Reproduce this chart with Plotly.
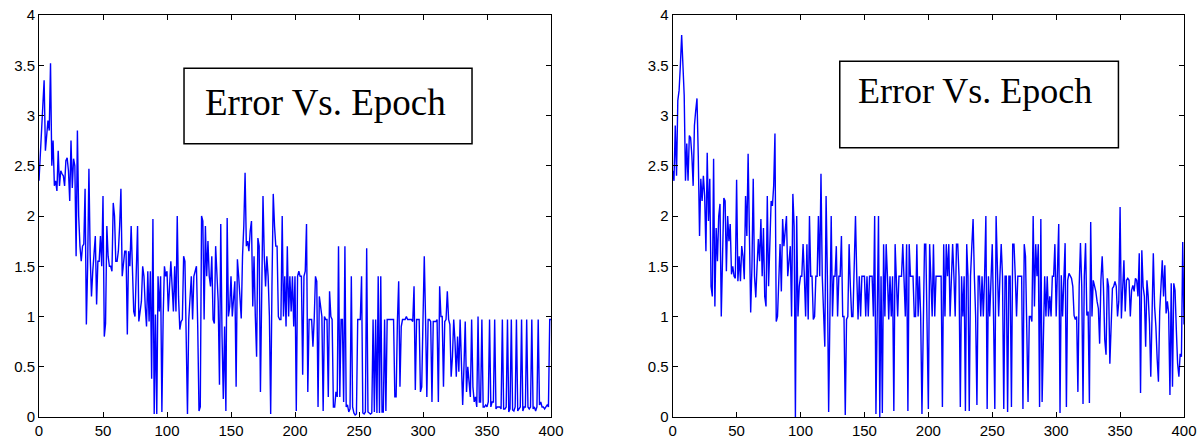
import plotly.graph_objects as go

epochs = list(range(0, 401))

error_left = [
    2.35, 2.6, 2.95, 3.1, 3.35, 2.65, 2.8, 2.95, 2.85, 3.52,
    2.5, 2.75, 2.3, 2.35, 2.25, 2.65, 2.3, 2.45, 2.42, 2.4,
    2.3, 2.55, 2.58, 2.45, 2.15, 2.75, 2.28, 2.57, 2.5, 1.6,
    2.85, 2.0, 1.7, 1.55, 1.7, 1.72, 2.27, 0.92, 1.5, 2.47,
    1.6, 1.2, 1.45, 1.6, 1.8, 1.12, 1.55, 1.55, 1.8, 1.5,
    2.2, 0.8, 0.93, 1.9, 1.6, 1.5, 1.5, 1.45, 2.13, 2.0,
    1.55, 1.55, 1.65, 1.9, 2.27, 1.4, 1.5, 1.65, 1.65, 0.82,
    1.65, 1.5, 1.9, 1.5, 1.05, 1.0, 1.6, 1.9, 0.95, 1.05,
    1.15, 1.5, 1.4, 1.1, 0.9, 1.45, 0.95, 1.45, 0.38, 1.97,
    0.03, 1.02, 0.03, 1.4, 1.05, 1.4, 0.05, 1.0, 1.5, 1.4,
    1.45, 1.05, 1.35, 1.55, 1.3, 1.05, 1.5, 1.05, 2.0, 1.2,
    0.87, 0.95, 0.97, 1.6, 1.55, 0.6, 0.03, 0.97, 1.2, 1.4,
    0.97, 1.4, 1.45, 1.5, 0.9, 0.06, 0.1, 2.0, 1.95, 0.97,
    1.9, 1.4, 1.75, 1.4, 1.3, 1.6, 0.97, 0.93, 1.7, 1.4,
    1.15, 0.32, 1.92, 0.8, 0.18, 0.9, 0.06, 1.98, 1.0, 1.1,
    1.4, 1.0, 1.2, 1.35, 0.3, 1.57, 1.4, 1.2, 0.98, 1.6,
    1.9, 2.43, 1.7, 1.75, 1.65, 1.85, 1.95, 1.1, 1.6, 1.0,
    0.6, 1.78, 1.7, 0.25, 1.3, 2.2, 1.6, 1.3, 1.6, 1.4,
    1.0, 0.03, 1.3, 2.22, 1.9, 1.7, 1.7, 1.0, 0.97, 0.97,
    2.0, 1.0, 1.4, 0.9, 1.7, 1.0, 1.4, 1.05, 1.4, 0.9,
    1.4, 0.06, 1.4, 1.45, 1.4, 1.4, 0.42, 1.4, 1.45, 1.92,
    0.25, 0.97, 0.97, 0.97, 0.7, 0.97, 1.4, 1.35, 0.1, 1.2,
    1.1, 1.0, 0.06, 1.0, 0.97, 0.97, 0.2, 1.25, 1.0, 0.97,
    0.1, 0.1, 0.25, 0.2, 1.7, 0.2, 0.97, 0.97, 0.15, 1.7,
    0.1, 0.12, 0.05, 0.08, 1.4, 0.1, 0.04, 0.02, 0.03, 0.97,
    0.97, 0.97, 1.4, 0.04, 0.03, 0.05, 1.68, 0.05, 0.04, 0.03,
    0.04, 0.97, 0.05, 0.97, 0.04, 1.4, 0.04, 1.4, 0.05, 0.05,
    0.97, 0.06, 0.97, 0.97, 0.97, 0.97, 0.97, 0.97, 0.2, 0.2,
    0.95, 1.35, 0.3, 0.9, 0.97, 0.97, 0.97, 1.0, 0.97, 0.97,
    0.97, 0.97, 0.95, 1.3, 0.27, 0.97, 0.97, 0.97, 0.25, 0.3,
    0.97, 1.6, 0.97, 0.2, 0.97, 0.97, 0.95, 0.15, 0.95, 0.95,
    0.95, 0.97, 0.15, 1.3, 1.0, 1.0, 0.3, 0.95, 0.97, 1.25,
    0.97, 0.92, 0.4, 0.6, 0.97, 0.75, 0.4, 0.8, 0.45, 0.97,
    0.5, 0.12, 0.5, 0.95, 0.25, 0.5, 0.35, 0.2, 0.97, 0.3,
    0.15, 0.2, 0.1, 1.0, 0.15, 0.15, 0.97, 0.1, 0.1, 0.12,
    0.1, 0.15, 0.97, 0.1, 0.15, 0.15, 0.97, 0.08, 0.1, 0.1,
    0.1, 0.08, 0.97, 0.08, 0.08, 0.1, 0.97, 0.05, 0.08, 0.97,
    0.07, 0.06, 0.1, 0.97, 0.06, 0.08, 0.1, 0.97, 0.06, 0.1,
    0.1, 0.97, 0.1, 0.08, 0.1, 0.97, 0.08, 0.1, 0.06, 0.1,
    0.97, 0.12, 0.15, 0.1, 0.1, 0.08, 0.1, 0.12, 0.1, 0.97,
    0.97,
]

error_right = [
    2.45, 2.35, 2.9, 2.4, 3.15, 3.25, 3.5, 3.8, 3.5, 3.2,
    2.35, 2.72, 2.35, 2.8, 2.78, 2.6, 2.3, 2.9, 3.05, 3.17,
    2.6, 1.8, 2.37, 2.15, 2.4, 2.2, 1.65, 2.63, 1.95, 2.37,
    1.3, 1.2, 2.57, 1.1, 1.88, 1.55, 2.0, 2.12, 1.0, 1.7,
    2.18, 2.15, 1.45, 2.0, 1.75, 1.92, 1.42, 1.5, 1.4, 1.38,
    2.36, 1.35, 1.6, 1.35, 1.7, 1.6, 1.37, 2.2, 1.8, 2.62,
    1.7, 1.04, 1.5, 2.37, 1.4, 1.19, 1.5, 1.77, 1.55, 1.97,
    1.4, 1.88, 1.2, 1.1, 2.2, 1.3, 1.72, 2.15, 2.1, 2.3,
    2.82, 0.95, 1.0, 1.3, 1.72, 1.25, 1.97, 1.7, 1.85, 2.0,
    1.4, 1.6, 1.7, 1.0, 2.22, 1.9, 0.0, 2.0, 1.0, 1.3,
    1.4, 1.4, 1.72, 1.4, 1.0, 1.72, 0.97, 2.0, 1.4, 1.4,
    0.97, 1.0, 1.4, 1.4, 2.0, 1.4, 2.42, 1.4, 1.0, 0.7,
    2.2, 1.4, 0.05, 1.4, 2.0, 1.0, 1.4, 1.4, 1.7, 1.0,
    1.4, 1.4, 1.8, 1.0, 1.0, 0.02, 0.97, 1.0, 1.72, 1.3,
    1.0, 1.0, 1.4, 2.0, 1.4, 0.97, 1.4, 1.0, 1.4, 1.4,
    1.4, 1.0, 1.4, 1.0, 1.4, 1.4, 1.4, 1.0, 2.0, 0.03,
    1.4, 2.0, 0.0, 1.4, 0.04, 1.72, 1.0, 1.72, 1.4, 0.97,
    1.4, 1.0, 1.4, 0.06, 1.72, 1.4, 1.0, 1.4, 1.4, 1.4,
    1.72, 1.4, 1.0, 1.72, 0.06, 1.72, 1.4, 1.4, 1.4, 1.0,
    1.0, 1.72, 1.0, 1.4, 1.0, 0.03, 1.0, 1.72, 1.72, 1.0,
    0.08, 1.72, 1.4, 1.0, 1.72, 1.0, 1.4, 1.4, 1.4, 1.4,
    1.4, 0.1, 1.72, 1.0, 1.72, 1.4, 1.72, 1.0, 1.4, 1.72,
    1.4, 1.0, 1.72, 1.72, 1.4, 0.1, 1.4, 1.0, 1.4, 0.06,
    1.72, 1.4, 0.06, 1.4, 1.7, 1.97, 1.4, 1.0, 0.12, 1.4,
    1.4, 1.0, 1.4, 1.0, 1.4, 2.0, 0.08, 1.4, 1.0, 1.4,
    1.72, 1.0, 0.08, 2.0, 1.4, 1.0, 1.4, 1.72, 1.4, 0.08,
    1.4, 1.4, 0.05, 1.4, 1.4, 0.1, 1.72, 1.72, 1.4, 1.0,
    1.4, 1.4, 1.4, 1.4, 0.08, 1.72, 1.6, 1.0, 0.15, 1.0,
    1.0, 0.95, 2.0, 1.1, 1.72, 1.4, 1.72, 0.1, 1.97, 0.15,
    1.0, 1.4, 1.0, 1.4, 1.0, 1.2, 1.0, 1.4, 1.4, 1.72,
    1.0, 1.4, 1.92, 0.04, 1.41, 1.0, 1.41, 1.73, 0.1, 1.36,
    1.43, 1.41, 1.38, 1.3, 1.01, 0.97, 1.0, 0.25, 1.3, 1.73,
    1.3, 0.13, 1.4, 1.73, 1.01, 1.05, 0.14, 1.94, 1.0, 1.36,
    1.3, 1.25, 1.15, 1.08, 0.73, 1.36, 1.6, 1.28, 0.77, 0.62,
    1.38, 1.3, 0.53, 0.9, 1.28, 1.3, 1.35, 1.3, 1.0, 1.15,
    2.09, 0.98, 1.36, 1.56, 1.05, 1.36, 1.38, 1.36, 1.0, 1.26,
    1.31, 1.25, 1.38, 1.36, 1.2, 1.63, 0.24, 1.66, 1.3, 1.2,
    0.7, 1.36, 1.2, 0.93, 0.4, 1.2, 1.63, 1.1, 0.9, 0.58,
    0.35, 1.05, 1.3, 1.56, 1.2, 1.51, 1.03, 1.15, 1.03, 0.22,
    1.33, 0.3, 1.33, 1.26, 0.87, 0.53, 0.4, 0.63, 0.6, 1.74,
    0.92,
]

x_ticks = [0, 50, 100, 150, 200, 250, 300, 350, 400]
y_ticks = [0, 0.5, 1, 1.5, 2, 2.5, 3, 3.5, 4]
y_ticklabels = ["0", "0.5", "1", "1.5", "2", "2.5", "3", "3.5", "4"]
title_text = "Error Vs. Epoch"

# Figure fills the whole 1203x441 window (page body margin removed in post_script)
W, H = 1203, 441


def xdom(px0, px1):
    return [px0 / W, px1 / W]


def ydom(py_top, py_bot):
    return [(H - py_bot) / H, (H - py_top) / H]


fig = go.Figure()
fig.add_trace(go.Scatter(x=epochs, y=error_left, mode="lines",
                         line=dict(color="#0000ff", width=1.4),
                         xaxis="x", yaxis="y", showlegend=False, hoverinfo="skip"))
fig.add_trace(go.Scatter(x=epochs, y=error_right, mode="lines",
                         line=dict(color="#0000ff", width=1.4),
                         xaxis="x2", yaxis="y2", showlegend=False, hoverinfo="skip"))

tick_font = dict(family="Liberation Sans, Arial, sans-serif", size=15, color="black")


def xax(domain, anchor):
    return dict(domain=domain, anchor=anchor, range=[0, 400], tickvals=x_ticks,
                ticks="inside", ticklen=5, tickcolor="black", tickwidth=1,
                showline=True, linecolor="black", linewidth=1, mirror="ticks",
                showgrid=False, zeroline=False, tickfont=tick_font,
                automargin=False, ticklabeloverflow="allow")


def yax(domain, anchor):
    return dict(domain=domain, anchor=anchor, range=[0, 4], tickvals=y_ticks,
                ticktext=y_ticklabels,
                ticks="inside", ticklen=5, tickcolor="black", tickwidth=1,
                showline=True, linecolor="black", linewidth=1, mirror="ticks",
                showgrid=False, zeroline=False, tickfont=tick_font,
                automargin=False, ticklabeloverflow="allow")


yd = ydom(15, 417)
fig.update_layout(
    width=W, height=H,
    margin=dict(l=0, r=0, t=0, b=0, autoexpand=False),
    paper_bgcolor="white", plot_bgcolor="white",
    xaxis=xax(xdom(39, 551), "y"),
    yaxis=yax(yd, "x"),
    xaxis2=xax(xdom(672.7, 1184), "y2"),
    yaxis2=yax(yd, "x2"),
)

# Text boxes (decorations)
fig.add_shape(type="rect", xref="x", yref="y", x0=113.3, x1=338.3, y0=2.72, y1=3.47,
              line=dict(color="black", width=1.5), fillcolor="white", layer="above")
fig.add_shape(type="rect", xref="x2", yref="y2", x0=130.7, x1=348.7, y0=2.68, y1=3.54,
              line=dict(color="black", width=1.5), fillcolor="white", layer="above")

serif_l = dict(family="Liberation Serif, Times New Roman, serif", size=37, color="black")
serif_r = dict(family="Liberation Serif, Times New Roman, serif", size=36, color="black")
fig.add_annotation(x=223.8, y=3.13, xref="x", yref="y", text=title_text, showarrow=False,
                   font=serif_l, xanchor="center", yanchor="middle")
fig.add_annotation(x=236.2, y=3.24, xref="x2", yref="y2", text=title_text, showarrow=False,
                   font=serif_r, xanchor="center", yanchor="middle")

fig.write_html(
    "out.html",
    config={"displayModeBar": False},
    post_script="document.body.style.margin='0';"
                "document.documentElement.style.overflow='hidden';",
)
